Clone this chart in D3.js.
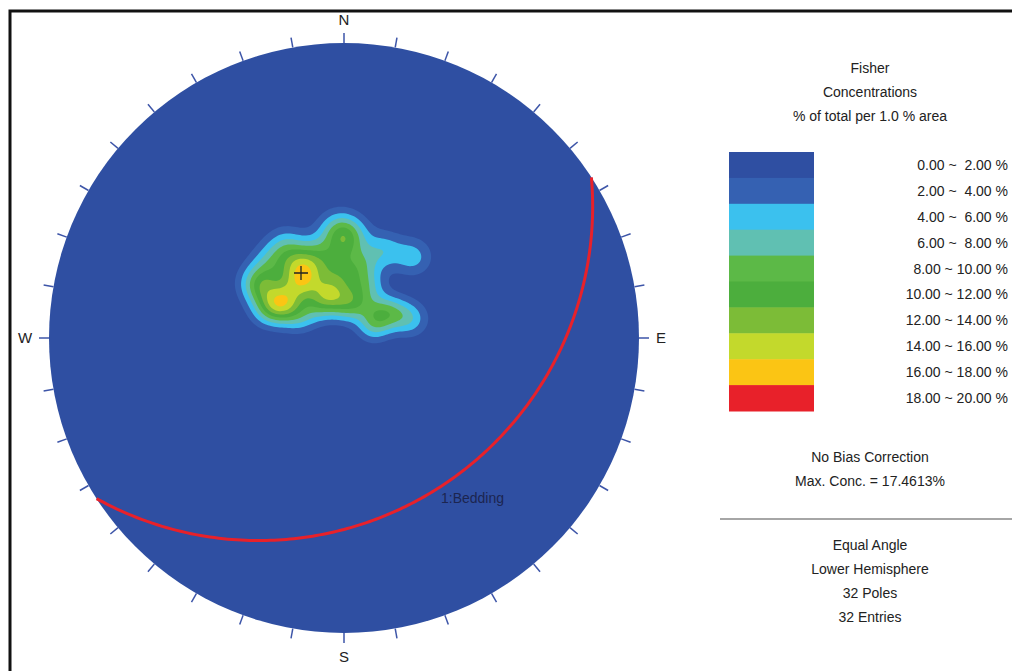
<!DOCTYPE html>
<meta charset="utf-8">
<script src="https://d3js.org/d3.v7.min.js"></script>
<style>
  body { margin: 0; background: #fff; }
  text { font-family: "Liberation Sans", Arial, sans-serif; }
</style>
<div id="chart"></div>
<script>

// pole data (trend / plunge, degrees)
var poleTrend  = [327.2, 330.9, 321.9, 327.3, 298.6, 297.6, 65.1, 340.5, 343.5,
                  358.8, 1.7, 23.7, 39.7, 61.6, 73.1, 52.6,
                  302.9, 315.8, 327.6, 341.4, 349.1, 0.9, 321.8, 296.6, 291.0,
                  355.3, 11.9, 16.1, 310.4, 302.5, 3.2, 22.2];
var polePlunge = [55.9, 59.6, 61.0, 64.6, 61.4, 62.9, 78.1, 70.4, 72.3,
                  54.6, 77.2, 53.5, 50.3, 69.0, 63.7, 73.5,
                  53.4, 50.4, 49.0, 55.8, 61.7, 65.9, 73.8, 70.2, 58.4,
                  49.0, 60.5, 74.7, 63.0, 51.0, 50.4, 67.6];

// bedding plane (dip direction / dip)
var planeNames = ["1:Bedding"];
var planeDipDir = [147];
var planeDip = [28];

// contour legend
var levels = [0, 2, 4, 6, 8, 10, 12, 14, 16, 18, 20];
var levelColors = ["#2f4fa2", "#3561b2", "#3bc1ee", "#60c0b2", "#5cb947", "#4cae3d",
                   "#7cbc37", "#c3d92c", "#fbc514", "#e8212a"];
var levelLabels = ["0.00 ~  2.00 %", "2.00 ~  4.00 %", "4.00 ~  6.00 %", "6.00 ~  8.00 %",
                   "8.00 ~ 10.00 %", "10.00 ~ 12.00 %", "12.00 ~ 14.00 %", "14.00 ~ 16.00 %",
                   "16.00 ~ 18.00 %", "18.00 ~ 20.00 %"];
var titleLines = ["Fisher", "Concentrations", "% of total per 1.0 % area"];
var infoLines = ["No Bias Correction", "Max. Conc. = 17.4613%"];
var projLines = ["Equal Angle", "Lower Hemisphere", "32 Poles", "32 Entries"];

var width = 1012, height = 671;
var cx = 344, cy = 338, R = 295;
var fisherK = 150;

var svg = d3.select("#chart").append("svg")
    .attr("width", width)
    .attr("height", height);

// frame
svg.append("rect")
    .attr("x", 10).attr("y", 11)
    .attr("width", 1040).attr("height", 700)
    .attr("fill", "none")
    .attr("stroke", "#111")
    .attr("stroke-width", 3);

var rad = Math.PI / 180;
// equal angle radius scale: tan((90 - plunge)/2) -> pixels
var rScale = d3.scaleLinear().domain([0, 1]).range([0, R]);

function project(trend, plunge) {
  var r = rScale(Math.tan((90 - plunge) * rad / 2));
  return [cx + r * Math.sin(trend * rad), cy - r * Math.cos(trend * rad)];
}

function toVec(trend, plunge) {
  var t = trend * rad, p = plunge * rad;
  return [Math.cos(p) * Math.cos(t), Math.cos(p) * Math.sin(t), Math.sin(p)];
}

// primitive circle
svg.append("circle")
    .attr("cx", cx).attr("cy", cy).attr("r", R)
    .attr("fill", levelColors[0]);

// 10 degree ticks
var ticks = d3.range(0, 360, 10);
svg.selectAll(".tick").data(ticks).enter().append("line")
    .attr("x1", function(d) { return cx + R * Math.sin(d * rad); })
    .attr("y1", function(d) { return cy - R * Math.cos(d * rad); })
    .attr("x2", function(d) { return cx + (R + 10) * Math.sin(d * rad); })
    .attr("y2", function(d) { return cy - (R + 10) * Math.cos(d * rad); })
    .attr("stroke", "#3d55a8")
    .attr("stroke-width", 1.5);

var compass = [["N", 0, 23], ["E", 90, 22], ["S", 180, 24], ["W", 270, 24]];
svg.selectAll(".compass").data(compass).enter().append("text")
    .attr("x", function(d) { return cx + (R + d[2]) * Math.sin(d[1] * rad); })
    .attr("y", function(d) { return cy - (R + d[2]) * Math.cos(d[1] * rad) + 5; })
    .attr("text-anchor", "middle")
    .attr("font-size", 15)
    .attr("fill", "#222")
    .text(function(d) { return d[0]; });

// Fisher density grid
var step = 2;
var x0 = cx - R, y0 = cy - R;
var nx = Math.ceil(2 * R / step) + 1, ny = nx;
var poles = poleTrend.map(function(t, i) { return toVec(t, polePlunge[i]); });
var values = new Float64Array(nx * ny);
var best = {v: 0, x: cx, y: cy};
for (var j = 0; j < ny; j++) {
  for (var i = 0; i < nx; i++) {
    var px = x0 + i * step, py = y0 + j * step;
    var dx = px - cx, dn = cy - py;
    var rho = Math.sqrt(dx * dx + dn * dn) / R;
    if (rho >= 0.995) continue;
    var plunge = 90 - 2 * Math.atan(rho) / rad;
    var trend = Math.atan2(dx, dn) / rad;
    var v = toVec(trend, plunge);
    var s = 0;
    for (var k = 0; k < poles.length; k++) {
      var c = Math.abs(v[0] * poles[k][0] + v[1] * poles[k][1] + v[2] * poles[k][2]);
      s += Math.exp(fisherK * (c - 1));
    }
    var val = s * fisherK / poles.length;
    values[j * nx + i] = val;
    if (val > best.v) best = {v: val, x: px, y: py};
  }
}

var contours = d3.contours().size([nx, ny]).thresholds(levels.slice(1, 10))(values);
var path = d3.geoPath(d3.geoIdentity().scale(step).translate([x0, y0]));
svg.append("g").selectAll("path").data(contours).enter().append("path")
    .attr("d", path)
    .attr("fill", function(d, i) { return levelColors[i + 1]; });

// max marker
svg.append("path")
    .attr("d", "M" + (best.x - 7) + "," + best.y + "h14M" + best.x + "," + (best.y - 7) + "v14")
    .attr("stroke", "#222").attr("stroke-width", 1.3);

// bedding great circle
var planes = planeDipDir.map(function(dd, i) {
  var strike = dd - 90, pts = [];
  d3.range(0, 180.5, 1).forEach(function(a) {
    // line in plane: apparent dip along azimuth strike + a
    var az = strike + a;
    var app = Math.atan(Math.tan(planeDip[i] * rad) * Math.sin(a * rad)) / rad;
    pts.push(project(az, app));
  });
  return {name: planeNames[i], pts: pts};
});
var line = d3.line().curve(d3.curveBasis);
svg.selectAll(".plane").data(planes).enter().append("path")
    .attr("d", function(d) { return line(d.pts); })
    .attr("fill", "none")
    .attr("stroke", "#e8212a")
    .attr("stroke-width", 3);

svg.append("text")
    .attr("x", 441).attr("y", 503)
    .attr("font-size", 14)
    .attr("fill", "#1c2550")
    .text(planeNames[0]);

// legend
var lx = 870;
svg.selectAll(".title").data(titleLines).enter().append("text")
    .attr("x", lx).attr("y", function(d, i) { return 73 + i * 24; })
    .attr("text-anchor", "middle").attr("font-size", 14).attr("fill", "#222")
    .text(function(d) { return d; });

var bandY = d3.scaleBand().domain(d3.range(10)).range([152, 411]);
svg.selectAll(".band").data(levelColors).enter().append("rect")
    .attr("x", 729).attr("width", 85)
    .attr("y", function(d, i) { return bandY(i); })
    .attr("height", bandY.bandwidth() + 0.5)
    .attr("fill", function(d) { return d; });

svg.selectAll(".lab").data(levelLabels).enter().append("text")
    .attr("x", 1008)
    .attr("y", function(d, i) { return bandY(i) + bandY.bandwidth() / 2 + 5; })
    .attr("text-anchor", "end").attr("font-size", 14).attr("fill", "#222")
    .attr("xml:space", "preserve")
    .style("white-space", "pre")
    .text(function(d) { return d; });

svg.selectAll(".info").data(infoLines).enter().append("text")
    .attr("x", lx).attr("y", function(d, i) { return 462 + i * 24; })
    .attr("text-anchor", "middle").attr("font-size", 14).attr("fill", "#222")
    .text(function(d) { return d; });

svg.append("line")
    .attr("x1", 720).attr("x2", 1012).attr("y1", 519).attr("y2", 519)
    .attr("stroke", "#888").attr("stroke-width", 1.5);

svg.selectAll(".proj").data(projLines).enter().append("text")
    .attr("x", lx).attr("y", function(d, i) { return 550 + i * 24; })
    .attr("text-anchor", "middle").attr("font-size", 14).attr("fill", "#222")
    .text(function(d) { return d; });

</script>
